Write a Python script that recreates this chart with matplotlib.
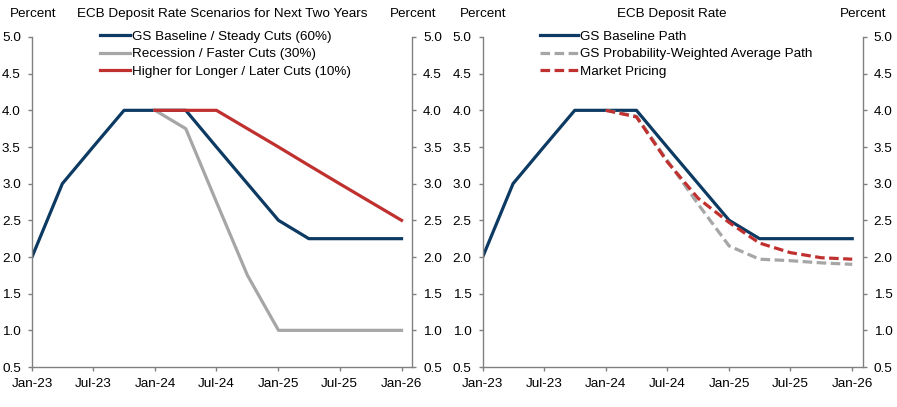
import pandas as pd
import matplotlib
matplotlib.use("Agg")
import matplotlib.pyplot as plt
import matplotlib.dates as mdates

plt.rcParams['font.family'] = ['Liberation Sans', 'DejaVu Sans']
plt.rcParams['font.size'] = 9.7

dates = pd.date_range("2023-01-01", "2026-01-01", freq="QS")
scen_dates = dates[4:]

baseline = [2.0, 3.0, 3.5, 4.0, 4.0, 4.0, 3.5, 3.0, 2.5, 2.25, 2.25, 2.25, 2.25]
recession = [4.0, 3.75, 2.75, 1.75, 1.0, 1.0, 1.0, 1.0, 1.0]
higher = [4.0, 4.0, 4.0, 3.75, 3.5, 3.25, 3.0, 2.75, 2.5]
prob_weighted = [4.0, 3.92, 3.32, 2.72, 2.15, 1.97, 1.95, 1.92, 1.9]
market = [4.0, 3.91, 3.30, 2.80, 2.47, 2.19, 2.06, 1.99, 1.97]

tick_dates = pd.date_range("2023-01-01", "2026-01-01", freq="6MS")

navy = "#0c3a62"
grey = "#a6a6a6"
red = "#c0302f"
spine_col = "#808080"

W, H = 897, 407
fig = plt.figure(figsize=(W / 100, H / 100), dpi=100)


def setup(ax):
    ax.set_ylim(0.5, 5.0)
    ax.set_xlim(pd.Timestamp("2023-01-01"), pd.Timestamp("2026-02-01"))
    ax.set_yticks([0.5, 1.0, 1.5, 2.0, 2.5, 3.0, 3.5, 4.0, 4.5, 5.0])
    ax.yaxis.set_major_formatter(matplotlib.ticker.FormatStrFormatter("%.1f"))
    ax.set_xticks(tick_dates)
    ax.xaxis.set_major_formatter(mdates.DateFormatter("%b-%y"))
    ax.spines["top"].set_visible(False)
    for s in ["left", "right", "bottom"]:
        ax.spines[s].set_color(spine_col)
        ax.spines[s].set_linewidth(1.0)
    ax.tick_params(axis="both", direction="out", length=3, width=1.0,
                   color=spine_col, labelsize=9.7, labelcolor="black")
    ax.tick_params(axis="y", pad=5, right=True, labelright=True)
    ax.tick_params(axis="x", pad=5)


bottom = 1 - 367 / H
height = 330 / H
ax1 = fig.add_axes([32 / W, bottom, 380 / W, height])
ax2 = fig.add_axes([482.7 / W, bottom, 380 / W, height])

lw = 2.3
ax1.plot(dates, baseline, color=navy, lw=lw, label="GS Baseline / Steady Cuts (60%)")
ax1.plot(scen_dates, recession, color=grey, lw=lw, label="Recession / Faster Cuts (30%)")
ax1.plot(scen_dates, higher, color=red, lw=lw, label="Higher for Longer / Later Cuts (10%)")
setup(ax1)

ax2.plot(dates, baseline, color=navy, lw=lw, label="GS Baseline Path")
ax2.plot(scen_dates, prob_weighted, color=grey, lw=lw, ls=(0, (3, 1.4)),
         label="GS Probability-Weighted Average Path")
ax2.plot(scen_dates, market, color=red, lw=lw, ls=(0, (3, 1.4)), label="Market Pricing")
setup(ax2)

for ax, x0, hl in [(ax1, 100, 2.2), (ax2, 540, 2.8)]:
    ax.legend(loc="upper left", bbox_to_anchor=(x0 / W, 1 - 30.5 / H),
              bbox_transform=fig.transFigure, frameon=False, fontsize=9.7,
              handlelength=hl, handletextpad=0.15, labelspacing=0.38,
              borderpad=0, borderaxespad=0)

ty = 1 - 14 / H
fig.text(10 / W, ty, "Percent", ha="left", va="center")
fig.text(222 / W, ty, "ECB Deposit Rate Scenarios for Next Two Years", ha="center", va="center")
fig.text(390 / W, ty, "Percent", ha="left", va="center")
fig.text(460 / W, ty, "Percent", ha="left", va="center")
fig.text(672 / W, ty, "ECB Deposit Rate", ha="center", va="center")
fig.text(840 / W, ty, "Percent", ha="left", va="center")

fig.savefig("out.png", dpi=100)
